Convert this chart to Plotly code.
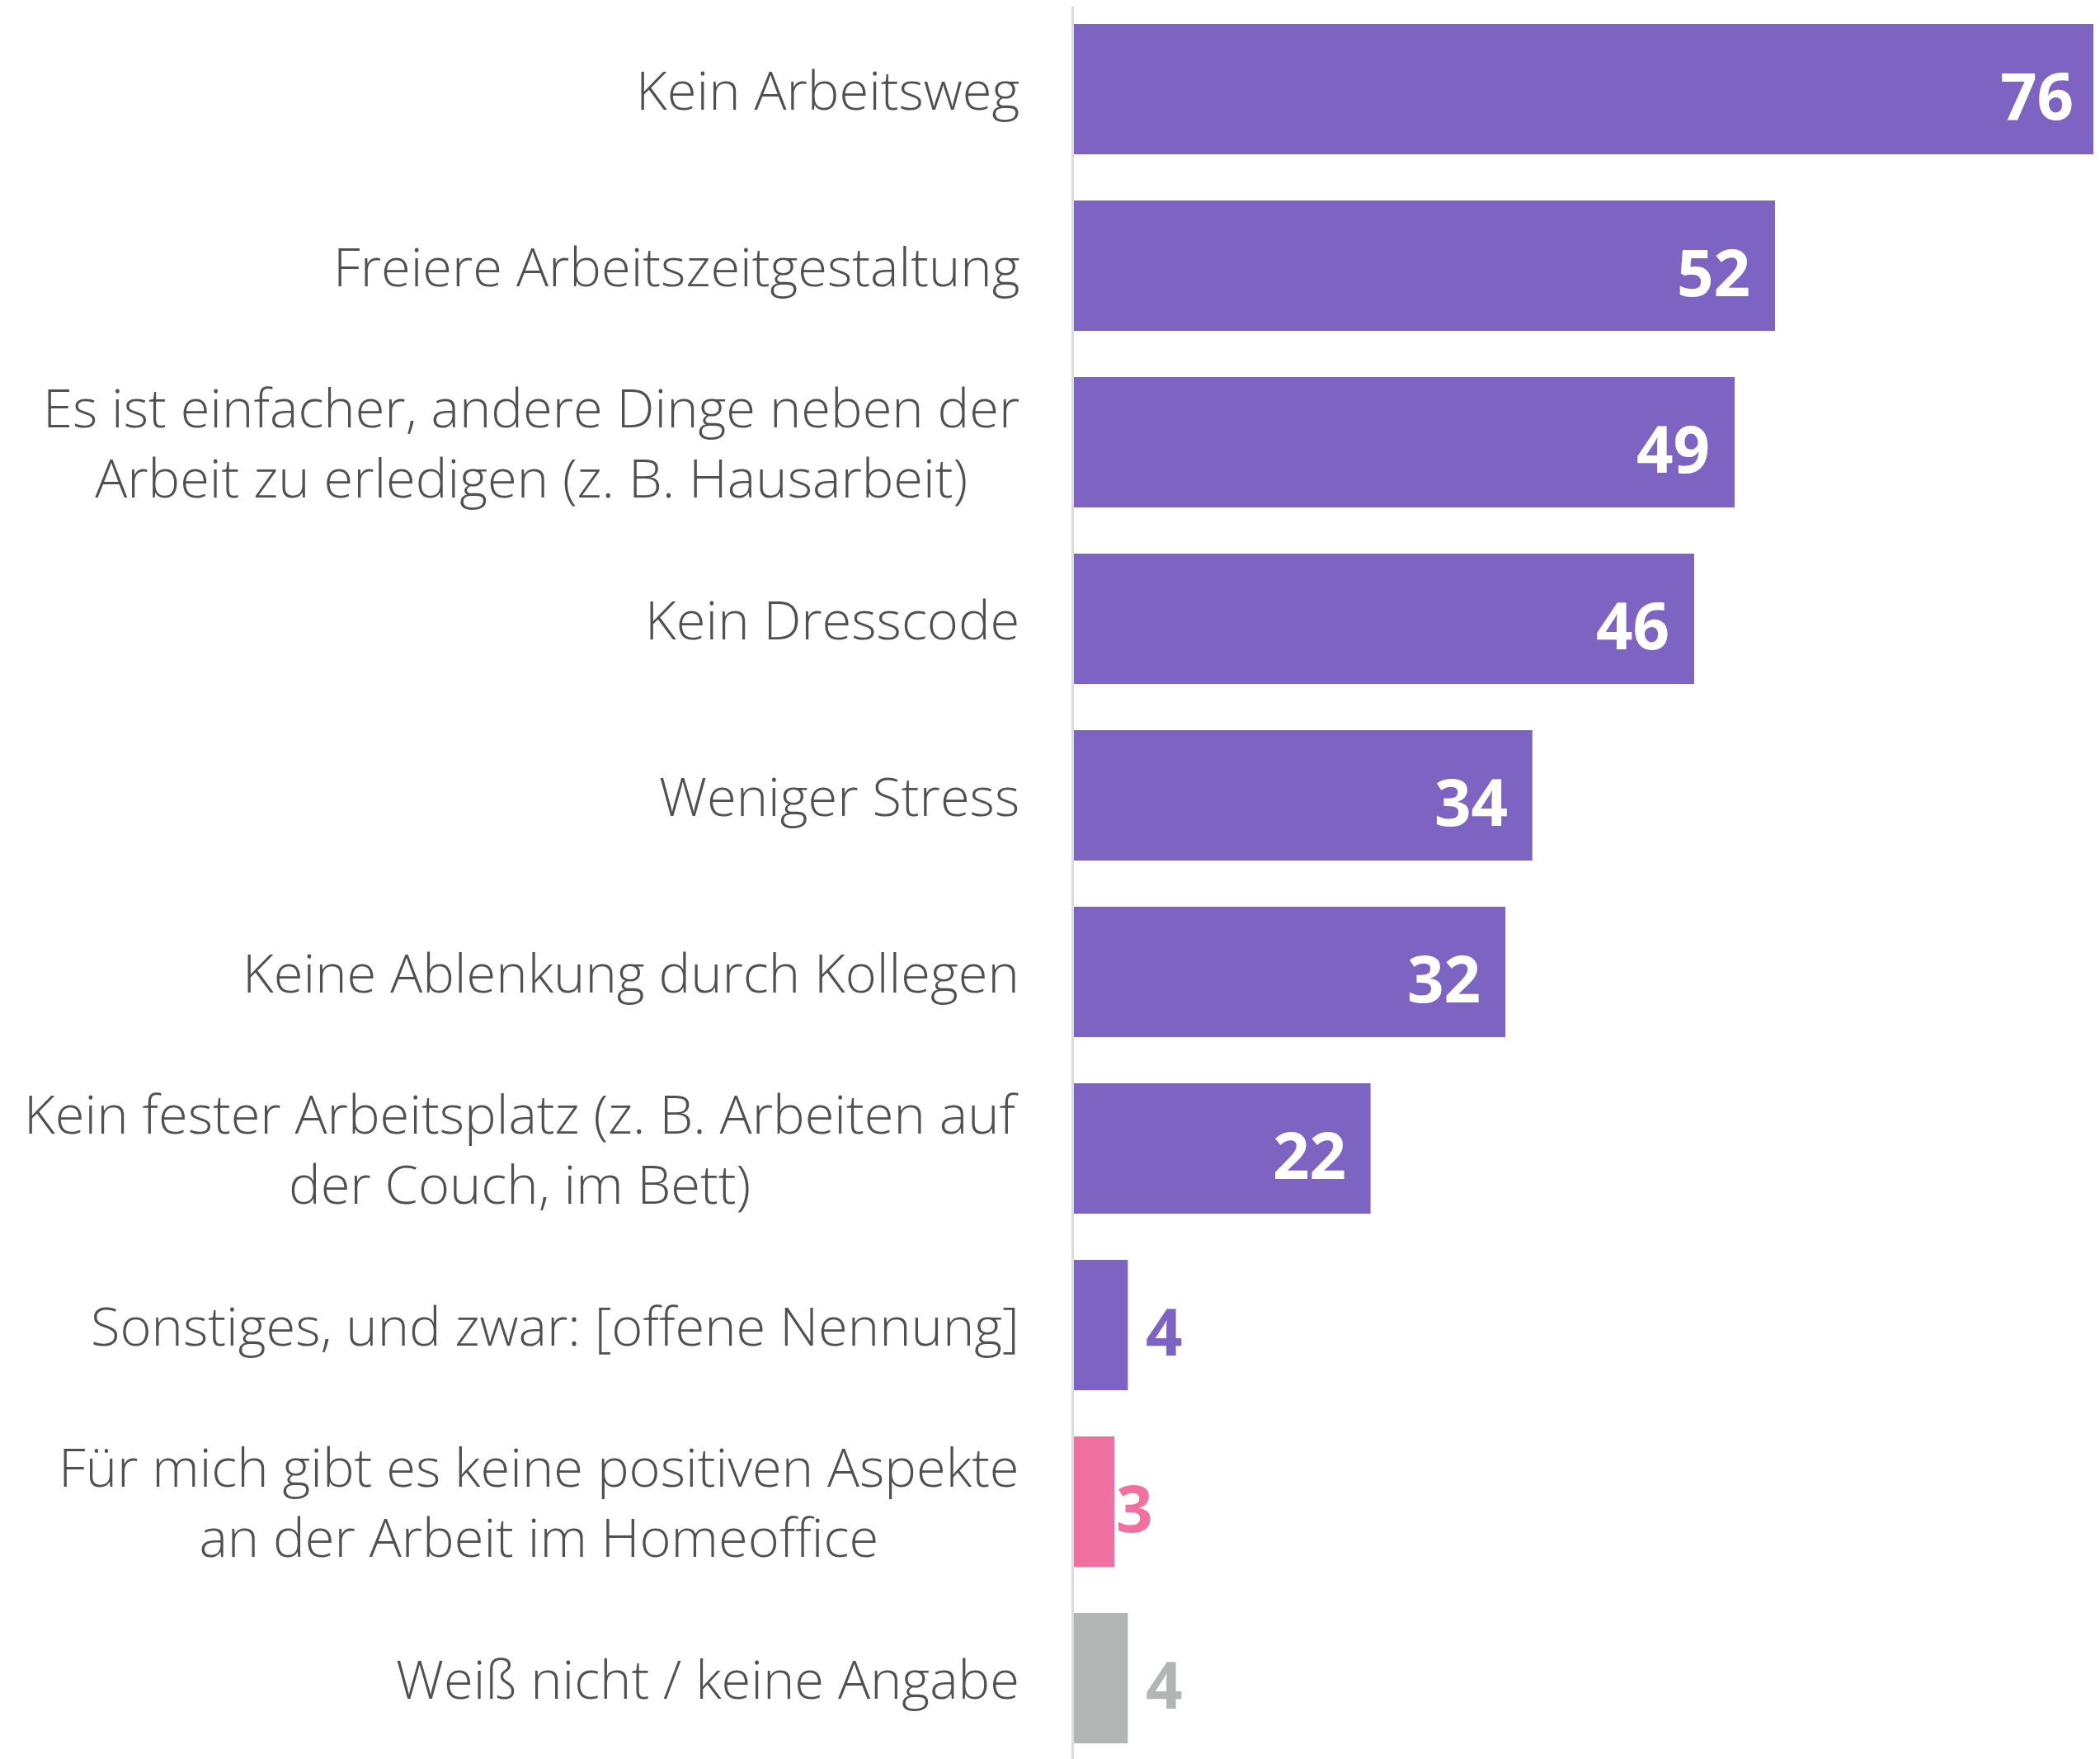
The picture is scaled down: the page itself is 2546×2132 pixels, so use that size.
import plotly.graph_objects as go

# Data
labels = [
    "Kein Arbeitsweg",
    "Freiere Arbeitszeitgestaltung",
    "Es ist einfacher, andere Dinge neben der<br>Arbeit zu erledigen (z. B. Hausarbeit)",
    "Kein Dresscode",
    "Weniger Stress",
    "Keine Ablenkung durch Kollegen",
    "Kein fester Arbeitsplatz (z. B. Arbeiten auf<br>der Couch, im Bett)",
    "Sonstiges, und zwar: [offene Nennung]",
    "Für mich gibt es keine positiven Aspekte<br>an der Arbeit im Homeoffice",
    "Weiß nicht / keine Angabe",
]
values = [76, 52, 49, 46, 34, 32, 22, 4, 3, 4]

PURPLE = "#7d64c2"
PINK = "#f0719f"
GREY = "#b3b4b4"
bar_colors = [PURPLE] * 8 + [PINK, GREY]

fig = go.Figure()
fig.add_trace(go.Bar(
    x=values,
    y=labels,
    orientation="h",
    marker=dict(color=bar_colors, line=dict(width=0)),
    hoverinfo="skip",
))

# category labels: centered multi-line text, right edge next to the axis
for lab in labels:
    fig.add_annotation(
        x=0, y=lab, xref="x", yref="y",
        text=lab, showarrow=False,
        xanchor="right", align="center", xshift=-64,
        font=dict(family="Open Sans", size=65, color="#505050", weight=300),
    )

# value labels
for lab, v, c in zip(labels, values, bar_colors):
    if v >= 10:
        fig.add_annotation(
            x=v, y=lab, text=str(v), showarrow=False,
            xanchor="right", xshift=-28, yshift=-7,
            font=dict(family="Open Sans", size=78, color="white", weight=700),
        )
    else:
        fig.add_annotation(
            x=v, y=lab, text=str(v), showarrow=False,
            xanchor="left", xshift=20 if v == 4 else 0, yshift=-7,
            font=dict(family="Open Sans", size=78, color=c, weight=700),
        )

fig.update_layout(
    width=2538,
    height=2124,
    margin=dict(l=1294, r=0, t=0, b=0),
    paper_bgcolor="white",
    plot_bgcolor="white",
    bargap=0.262,
    showlegend=False,
)
fig.update_xaxes(range=[0, 76.1], visible=False)
fig.update_yaxes(
    range=[9.458, -0.467],
    showticklabels=False,
    showgrid=False,
    showline=True,
    linecolor="#dcdcdc",
    linewidth=3,
    ticks="",
)

fig.write_html("out.html")
